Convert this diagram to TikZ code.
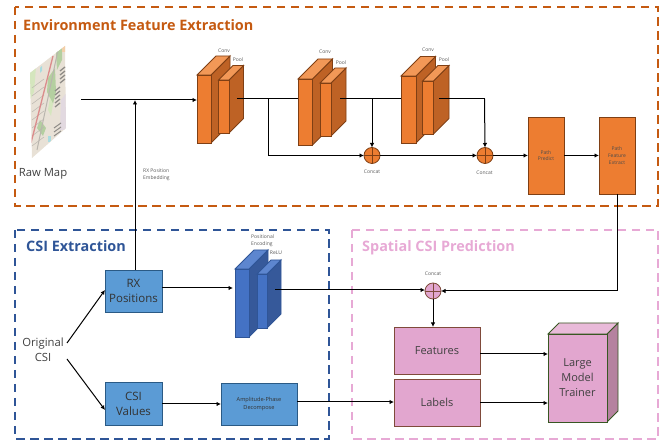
\documentclass[tikz,border=0pt]{standalone}
\usepackage{fontspec}
\setmainfont{Open Sans}
\usetikzlibrary{arrows.meta,calc}
\definecolor{orF}{HTML}{ED7D31}\definecolor{orS}{HTML}{BE6225}\definecolor{orT}{HTML}{F29857}\definecolor{orD}{HTML}{7F3F14}
\definecolor{blF}{HTML}{4472C4}\definecolor{blS}{HTML}{36599A}\definecolor{blT}{HTML}{5D86CF}\definecolor{blD}{HTML}{2F5597}
\definecolor{skF}{HTML}{5B9BD5}\definecolor{skD}{HTML}{2A5A85}
\definecolor{piF}{HTML}{E2A6CF}\definecolor{piS}{HTML}{B5829F}\definecolor{piT}{HTML}{E9BAD9}\definecolor{piD}{HTML}{7F4A3A}\definecolor{trD}{HTML}{385723}
\definecolor{secO}{HTML}{C55A11}\definecolor{secB}{HTML}{2F5597}\definecolor{secP}{HTML}{E7A9D5}
\definecolor{mapB}{HTML}{E8E1D6}\definecolor{mapG}{HTML}{B4CFA0}\definecolor{mapL}{HTML}{D5E6BE}\definecolor{mapV}{HTML}{E2D9E0}
\definecolor{mapC}{HTML}{A9DCE0}\definecolor{mapO}{HTML}{F3CFA8}\definecolor{mapR}{HTML}{DB8C8C}\definecolor{mapK}{HTML}{8F8C88}\definecolor{mapW}{HTML}{B9B5AE}
\tikzset{
  x=1pt,y=-1pt,
  section/.style={line width=1.5pt,dash pattern=on 8.5pt off 5.5pt},
  sectitle/.style={anchor=west,font=\fontsize{14.4}{18}\selectfont\bfseries,inner sep=0pt},
  conn/.style={line width=1pt,black},
  arr/.style={conn,-{Latex[length=4.5pt,width=4.5pt]}},
  tiny/.style={font=\fontsize{5}{7}\selectfont,text=black!65,align=left,inner sep=0pt},
  body/.style={font=\fontsize{11.3}{15}\selectfont,text=black!75,align=center,inner sep=0pt},
  orbox/.style={rectangle,draw=orD,fill=orF,line width=.9pt,inner sep=0pt,outer sep=0pt,font=\fontsize{5}{6.7}\selectfont,text=black!70,align=center},
  skbox/.style={rectangle,draw=skD,fill=skF,line width=.9pt,inner sep=0pt,outer sep=0pt,font=\fontsize{11.5}{15}\selectfont,text=black!80,align=center},
  pibox/.style={rectangle,draw=piD,fill=piF,line width=.9pt,inner sep=0pt,outer sep=0pt,font=\fontsize{11}{15}\selectfont,text=black!75,align=center},
  xcircle/.style={circle,draw=#1,line width=.8pt,minimum size=16pt,inner sep=0pt,outer sep=0pt,
     path picture={\draw[#1,line width=.8pt] (path picture bounding box.north)--(path picture bounding box.south)
       (path picture bounding box.west)--(path picture bounding box.east);}},
}
% name, x1, y1, x2, y2, depth, fill, side, top ; line colour in \cubeline
\newcommand{\cubeblock}[9]{%
  \pgfmathsetmacro{\cw}{#4-#2}\pgfmathsetmacro{\ch}{#5-#3}
  \pgfmathsetmacro{\cx}{(#2+#4)/2}\pgfmathsetmacro{\cy}{(#3+#5)/2}
  \filldraw[fill=#8,draw=\cubeline,line width=.9pt] (#4,#3) -- ++(#6,-#6) -- ++(0,\ch) -- (#4,#5) -- cycle;
  \filldraw[fill=#9,draw=\cubeline,line width=.9pt] (#2,#3) -- ++(#6,-#6) -- ++(\cw,0) -- (#4,#3) -- cycle;
  \node[rectangle,minimum width=\cw pt,minimum height=\ch pt,inner sep=0pt,outer sep=0pt,draw=\cubeline,fill=#7,line width=.9pt] (#1) at (\cx,\cy) {};
}
\begin{document}
\begin{tikzpicture}
\useasboundingbox (0,0) rectangle (665,443);
% sections
\draw[section,secO] (15,7) rectangle (658,206);
\draw[section,secB] (15,230) rectangle (329,439);
\draw[section,secP] (352,230) rectangle (658,439);
\node[sectitle,text=secO] (t1) at (23,25) {Environment Feature Extraction};
\node[sectitle,text=secB] (t2) at (26,246.5) {CSI Extraction};
\node[sectitle,text=secP] (t3) at (362,247.5) {Spatial CSI Prediction};
% map
\begin{scope}
\clip (65,46) -- (66,128) -- (32,158) -- (30,73) -- cycle;
\fill[mapB] (28,44) rectangle (68,160);
\fill[mapL] (30,73) -- (36,67) -- (34,92) -- (30,100) -- cycle;
\fill[mapG] (48,78) -- (55,68) -- (56,92) -- (53,104) -- (47,92) -- cycle;
\fill[mapG] (56,53) -- (62,47) -- (62,60) -- (57,70) -- cycle;
\fill[mapL] (50,98) -- (53,104) -- (51,116) -- (48,110) -- cycle;
\fill[mapG] (40,120) -- (46,128) -- (43,136) -- (37,128) -- cycle;
\fill[mapV] (61,100) -- (67,92) -- (67,130) -- (60,130) -- cycle;
\fill[mapO] (62,44) rectangle (68,52);
\fill[mapC] (48,136) rectangle (51,142);
\fill[mapC] (40,68) -- (42,66) -- (42,71) -- (40,73) -- cycle;
\foreach \yy in {68,72,76,80}{\draw[mapK,line width=1.3pt] (60,\yy+3) -- (65,\yy-1);}
\foreach \yy in {88,92,96,100,104}{\draw[mapK,line width=1.3pt] (55,\yy+3) -- (60,\yy-1);}
\foreach \yy in {126,130,134}{\draw[mapK,line width=1pt] (54,\yy+2) -- (61,\yy-3);}
\foreach \yy in {84,92,100,108,116,124,132,142}{\draw[mapW,line width=.5pt] (32,\yy+4) -- (44,\yy-5);}
\draw[mapW,line width=1pt] (58,50) -- (37,150);
\draw[mapR,line width=1.3pt] (53,56) -- (31,143);
\end{scope}
\coordinate (rawmap) at (81,100);
\node[body] (rawlabel) at (43,174) {Raw Map};
% CNN blocks
\def\cubeline{orD}
\cubeblock{aa}{197}{75}{211}{143}{19}{orF}{orS}{orT}
\cubeblock{bb}{218.5}{80}{229}{133}{14.5}{orF}{orS}{orT}
\cubeblock{cc}{298}{79}{312.5}{145}{20}{orF}{orS}{orT}
\cubeblock{dd}{320}{83}{331}{136}{15}{orF}{orS}{orT}
\cubeblock{ee}{401}{76}{416}{143}{19.5}{orF}{orS}{orT}
\cubeblock{ff}{422.5}{81}{433.5}{134}{15.5}{orF}{orS}{orT}
\node[tiny] (l1) at (224,51) {Conv};\node[tiny] (l2) at (238,60) {Pool};
\node[tiny] (l3) at (325,52) {Conv};\node[tiny] (l4) at (341,63) {Pool};
\node[tiny] (l5) at (428,50) {Conv};\node[tiny] (l6) at (444,60) {Pool};
% concat
\node[xcircle=orD,fill=orF] (c1) at (372,155.5) {};
\node[xcircle=orD,fill=orF] (c2) at (485,155.5) {};
\node[tiny] (cl1) at (372,172) {Concat};
\node[tiny] (cl2) at (484.5,172.5) {Concat};
% path boxes
\node[orbox,minimum width=36pt,minimum height=77pt] (pp) at (546,155.5) {Path\\Predict};
\node[orbox,minimum width=36pt,minimum height=77pt] (pf) at (617,155.5) {Path\\Feature\\Extract};
% CSI
\node[body] (orig) at (43,350) {Original\\CSI};
\node[skbox,minimum width=57pt,minimum height=42pt] (rx) at (133.5,291) {RX\\Positions};
\node[skbox,minimum width=57pt,minimum height=43pt] (cv) at (133.5,403.5) {CSI\\Values};
\node[skbox,minimum width=76pt,minimum height=42pt,font=\fontsize{5.6}{8}\selectfont] (ap) at (259,404) {Amplitude-Phase\\Decompose};
\def\cubeline{blD}
\cubeblock{gg}{235}{269}{249}{337}{19}{blF}{blS}{blT}
\cubeblock{hh}{257}{274}{267}{328}{14}{blF}{blS}{blT}
\node[tiny,anchor=west,font=\fontsize{5}{7.2}\selectfont] (pe) at (251,240.5) {Positional\\Encoding};
\node[tiny] (relu) at (276,253) {ReLU};
\node[tiny,anchor=west] (rxemb) at (143,174.5) {RX Position\\Embedding};
% spatial
\node[xcircle=piD,fill=piF] (c3) at (433,291) {};
\node[tiny] (cl3) at (433,274) {Concat};
\node[pibox,minimum width=86pt,minimum height=47pt] (feat) at (437,350.5) {Features};
\node[pibox,minimum width=86pt,minimum height=47pt] (lab) at (437,402.5) {Labels};
\def\cubeline{trD}
\cubeblock{te}{548}{334}{607}{422}{11}{piF}{piS}{piT}
\node[font=\fontsize{11}{15}\selectfont,text=black!75,align=center,inner sep=0pt] (tr) at (te.center) {Large\\Model\\Trainer};
% connectors
\coordinate (j1) at (135,100);
\coordinate (s0) at (135,270);
\coordinate (s1) at (237,99);
\coordinate (j2) at (268,99);
\coordinate (j3) at (268,155.5);
\coordinate (s2) at (340,99);
\coordinate (s3) at (439,99);
\coordinate (j4) at (484.5,99);
\coordinate (j5) at (372,99);
\coordinate (s4) at (275,290);
\coordinate (j6) at (617,291);
\draw[arr] (rawmap) -- (aa.west |- rawmap);
\draw[arr] (s0) -- (j1);
\draw[conn] (s1) -- (cc.west |- s1);
\draw[conn] (j2) -- (j3);
\draw[arr] (j3) -- (c1.west);
\draw[conn] (s2) -- (ee.west |- s2);
\draw[arr] (j5) -- (c1.north);
\draw[conn] (s3) -- (j4);
\draw[arr] (j4) -- (c2.north);
\draw[arr] (c1.east) -- (c2.west);
\draw[arr] (c2.east) -- (pp.west |- c2.east);
\draw[arr] (pp.east) -- (pf.west);
\draw[conn] (pf.south) -- (j6);
\draw[arr] (j6) -- (c3.east);
\draw[arr] (s4) -- (c3.west |- s4);
\draw[arr] (c3.south) -- (c3.south |- feat.north);
\draw[arr] (67,343) -- (rx.west |- 0,290);
\draw[arr] (67,359) -- (cv.west |- 0,410);
\draw[arr] (rx.east |- 0,288) -- (233,288);
\draw[arr] (cv.east |- 0,404) -- (ap.west |- 0,404);
\draw[arr] (ap.east |- 0,402) -- (lab.west |- 0,402);
\draw[arr] (feat.east |- 0,354) -- (te.west |- 0,354);
\draw[arr] (lab.east |- 0,403) -- (te.west |- 0,403);
\end{tikzpicture}
\end{document}
